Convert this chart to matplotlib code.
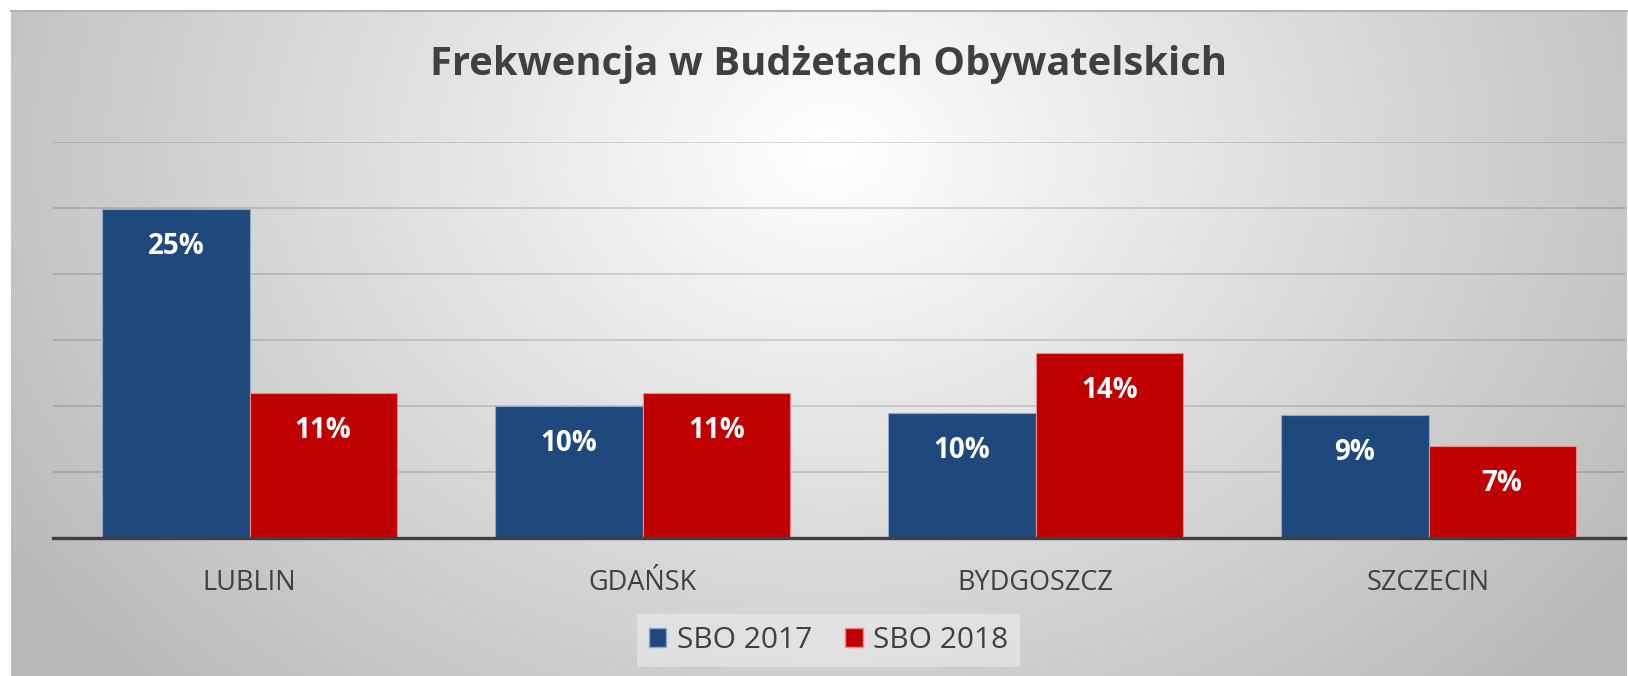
import numpy as np
import matplotlib
matplotlib.use("Agg")
import matplotlib.pyplot as plt
from matplotlib.patches import Patch

categories = ["LUBLIN", "GDAŃSK", "BYDGOSZCZ", "SZCZECIN"]
sbo2017 = [25, 10, 10, 9]
sbo2017_height = [24.9, 10.0, 9.5, 9.3]
sbo2018 = [11, 11, 14, 7]
sbo2018_height = [10.95, 10.95, 14.0, 6.95]
series_names = ["SBO 2017", "SBO 2018"]
title = "Frekwencja w Budżetach Obywatelskich"

W, H = 1628, 676
plt.rcParams['font.family'] = ['Open Sans', 'DejaVu Sans']
fig = plt.figure(figsize=(W / 100, H / 100), dpi=100)
fig.patch.set_facecolor('white')

# Background frame with radial gradient
x0, y0top = 11, 11
bg = fig.add_axes([x0 / W, 0, (W - x0 - 1) / W, (H - y0top) / H])
bw, bh = W - x0 - 1, H - y0top
xx, yy = np.meshgrid(np.arange(bw), np.arange(bh))
cx, cy = 830 - x0, 150 - y0top
r = np.sqrt(((xx - cx) / 820.0) ** 2 + ((yy - cy) / 640.0) ** 2)
r = np.clip(r, 0, 1.2)
v = 1.0 - 0.23 * r
img = np.dstack([v, v, v])
bg.imshow(img, extent=[0, bw, bh, 0], aspect='auto', interpolation='bilinear')
bg.set_xlim(0, bw)
bg.set_ylim(bh, 0)
bg.axis('off')
fig.add_artist(plt.Line2D([x0 / W, 1], [1 - y0top / H, 1 - y0top / H],
                          transform=fig.transFigure, color='#b4b4b4', lw=1.5))

# Plot area
left, right, top, base = 53, 1625, 142, 538
ax = fig.add_axes([left / W, (H - base) / H, (right - left) / W, (base - top) / H])
ax.patch.set_alpha(0)
x = np.arange(len(categories))
bwid = 0.375
b1 = ax.bar(x - bwid / 2, sbo2017_height, bwid, color='#1F497D',
            edgecolor='#8fa8cc', linewidth=0.8, zorder=3, label=series_names[0])
b2 = ax.bar(x + bwid / 2, sbo2018_height, bwid, color='#C00000',
            edgecolor='#f08a8a', linewidth=0.8, zorder=3, label=series_names[1])
ax.set_xlim(-0.5, len(categories) - 0.5)
ax.set_ylim(0, 30)
ax.set_yticks(np.arange(5, 31, 5))
ax.grid(axis='y', color='black', alpha=0.15, linewidth=1.2, zorder=0)
ax.tick_params(axis='y', left=False, labelleft=False)
ax.tick_params(axis='x', bottom=False, pad=19, labelsize=19.5, labelcolor='#404040')
ax.set_xticks(x)
ax.set_xticklabels(categories)
for s in ['top', 'right', 'left']:
    ax.spines[s].set_visible(False)
ax.spines['bottom'].set_color('#404040')
ax.spines['bottom'].set_linewidth(2.4)
ax.spines['bottom'].set_zorder(4)

for bars, labels in ((b1, sbo2017), (b2, sbo2018)):
    for rect, lab in zip(bars, labels):
        ax.annotate(f"{lab}%", (rect.get_x() + rect.get_width() / 2, rect.get_height()),
                    xytext=(0, -27), textcoords='offset points', ha='center', va='center',
                    color='white', fontsize=20, fontweight='bold', zorder=5)

fig.text(828 / W, 1 - 65 / H, title, ha='center', va='center', fontsize=28.7,
         fontweight='bold', color='#404040')

handles = [Patch(facecolor='#1F497D', edgecolor='#8fa8cc'),
           Patch(facecolor='#C00000', edgecolor='#f08a8a')]
leg = fig.legend(handles, series_names, loc='center', bbox_to_anchor=(828.5 / W, 1 - 640.5 / H),
                 ncol=2, frameon=True, fontsize=21.5, handlelength=0.6, handleheight=0.6,
                 handletextpad=0.35, columnspacing=1.1, borderpad=0.4, fancybox=False)
leg.get_frame().set_facecolor('white')
leg.get_frame().set_alpha(0.35)
leg.get_frame().set_linewidth(0)
for t in leg.get_texts():
    t.set_color('#404040')

fig.savefig('out.png', dpi=100)
